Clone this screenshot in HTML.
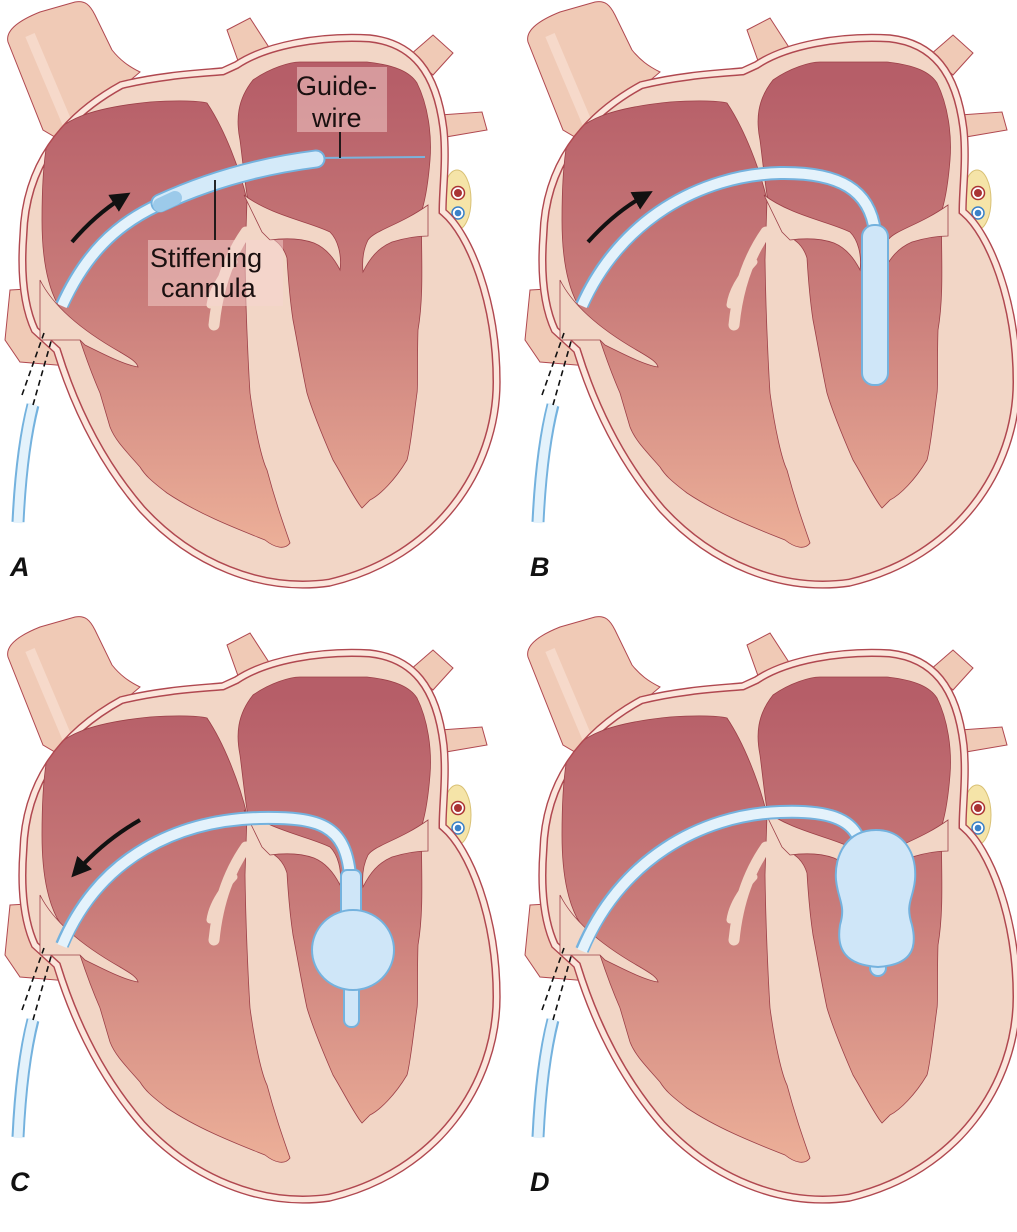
<!DOCTYPE html>
<html><head><meta charset="utf-8"><style>
html,body{margin:0;padding:0;background:#fff}
svg{display:block}
.lbl{font-family:"Liberation Sans",sans-serif;font-weight:bold;font-style:italic;font-size:27px;fill:#111}
.t{font-family:"Liberation Sans",sans-serif;font-size:27px;fill:#1a1010}
</style></head><body>
<svg width="1017" height="1232" viewBox="0 0 1017 1232" xmlns="http://www.w3.org/2000/svg">
<defs>
<linearGradient id="ch" gradientUnits="userSpaceOnUse" x1="0" y1="80" x2="0" y2="560">
<stop offset="0" stop-color="#b65e68"/><stop offset="0.45" stop-color="#c97c7a"/><stop offset="1" stop-color="#eeb29a"/>
</linearGradient>
<clipPath id="hc"><path id="hp" d="M20,235 C22,165 60,115 120,82 C160,72 200,70 222,68 L235,62 C265,42 320,32 370,35 C415,40 440,70 447,130 C450,160 446,190 446,210 C472,232 500,300 500,382 C500,470 440,560 330,586 C260,596 190,566 140,512 C100,466 72,410 54,352 L32,332 C18,302 18,262 20,235 Z"/></clipPath>
<marker id="ah" markerWidth="5" markerHeight="5" refX="2.5" refY="2.5" orient="auto"><path d="M0,0 L5,2.5 L0,5 Z" fill="#111"/></marker>
<g id="heart">
 <path d="M8,42 C5,30 20,20 40,12 L75,2 C85,0 90,5 95,15 L112,50 C120,60 128,66 140,72 L60,140 L43,130 Z" fill="#f0cab6" stroke="#b04850" stroke-width="1"/>
 <path d="M30,35 L68,125" stroke="#fbe3d8" stroke-width="10" opacity="0.6"/>
 <path d="M227,30 L250,18 L272,52 L242,72 Z" fill="#f0cab6" stroke="#b04850" stroke-width="1"/>
 <path d="M410,55 L433,35 L453,53 L433,75 Z" fill="#f0cab6" stroke="#b04850" stroke-width="1"/>
 <path d="M440,115 L482,112 L487,130 L440,138 Z" fill="#f0cab6" stroke="#b04850" stroke-width="1"/>
 <path d="M10,290 L45,288 L60,340 L68,366 L20,362 L5,340 Z" fill="#f0cab6" stroke="#b04850" stroke-width="1"/>
 <ellipse cx="457" cy="200" rx="14" ry="30" fill="#f5e4a8" stroke="#d8c074" stroke-width="1"/>
 <circle cx="458" cy="193" r="6.5" fill="#fff" stroke="#a33" stroke-width="1.5"/><circle cx="458" cy="193" r="4" fill="#a33"/>
 <circle cx="458" cy="213" r="6" fill="#fff" stroke="#3b82c8" stroke-width="1.5"/><circle cx="458" cy="213" r="3.3" fill="#3b82c8"/>
 <g clip-path="url(#hc)">
  <use href="#hp" fill="#f2d6c6" stroke="#b04850" stroke-width="15"/>
  <use href="#hp" fill="none" stroke="#fbe6dc" stroke-width="12"/>
  <path d="M47,143 C60,120 90,108 150,102 C180,100 200,101 207,103 C225,130 240,170 247,200 L245,260 C246,330 250,393 250,393 C255,430 262,460 267,470 C275,500 282,520 290,543 C285,550 275,548 265,540 C240,530 200,515 167,493 C150,480 145,475 140,467 C125,450 115,440 110,427 C105,410 102,400 100,393 C90,370 85,355 80,340 L57,303 C45,280 42,250 42,220 C42,190 43,165 47,143 Z" fill="url(#ch)" stroke="#9c4048" stroke-width="0.8"/>
  <path d="M240,140 C236,120 237,100 253,80 C270,68 290,62 300,62 L367,62 C395,65 410,72 417,83 C428,105 432,135 430,160 C428,185 425,200 422,210 C420,240 425,290 418,330 C417,360 418,390 417,393 C412,430 410,450 407,460 C395,480 380,495 370,500 C365,505 362,508 362,508 C355,500 345,480 333,460 C320,430 312,410 307,393 C302,370 297,340 293,320 C290,300 288,275 287,258 C283,245 275,240 270,237 L265,222 C255,210 248,200 247,195 C244,175 242,155 240,140 Z" fill="url(#ch)" stroke="#9c4048" stroke-width="0.8"/>
  <path d="M40,280 C55,310 90,335 120,352 C130,358 137,362 138,367 C125,365 105,355 85,345 L80,340 L40,340 Z" fill="#f2d6c6" stroke="#9c4048" stroke-width="0.8"/>
  <path d="M246,232 C230,255 218,285 214,325" fill="none" stroke="#f2d6c6" stroke-width="11" stroke-linecap="round"/>
  <path d="M234,262 C222,275 212,290 210,305" fill="none" stroke="#f2d6c6" stroke-width="7" stroke-linecap="round"/>
  <path d="M244,195 C270,215 310,222 330,232 C338,240 342,255 340,270 C334,258 326,248 314,243 C300,238 285,238 270,240 L262,232 Z" fill="#f2d6c6" stroke="#9c4048" stroke-width="0.8"/>
  <path d="M428,205 C400,225 375,230 368,240 C363,250 362,262 363,272 C370,258 378,248 392,242 C405,238 418,236 428,236 Z" fill="#f2d6c6" stroke="#9c4048" stroke-width="0.8"/>
 </g>
 <use href="#hp" fill="none" stroke="#b04850" stroke-width="1.4"/>
 <path d="M18,522 C20,480 24,440 33,405" fill="none" stroke="#74b2de" stroke-width="13"/>
 <path d="M18,523 C20,480 24,440 33,404" fill="none" stroke="#e4f2fb" stroke-width="9"/>
 <path d="M22,395 L44,333 M33,405 L52,338" stroke="#111" stroke-width="1.6" stroke-dasharray="6,4"/>
</g>
</defs>

<use href="#heart" x="0" y="0"/>
<use href="#heart" x="520" y="0"/>
<use href="#heart" x="0" y="615"/>
<use href="#heart" x="520" y="615"/>

<g>
 <path d="M62,305 C85,255 115,225 158,205" fill="none" stroke="#74b2de" stroke-width="14"/>
 <path d="M62,306 C85,255 115,225 158,205" fill="none" stroke="#e4f2fb" stroke-width="10"/>
 <path d="M318,158 L425,157" stroke="#7ab3dc" stroke-width="2"/>
 <path d="M160,203 C210,180 260,166 316,159" fill="none" stroke="#74b2de" stroke-width="19" stroke-linecap="round"/>
 <path d="M160,203 C210,180 260,166 316,159" fill="none" stroke="#d4eaf9" stroke-width="15" stroke-linecap="round"/>
 <path d="M160,205 L175,198" stroke="#9ccaea" stroke-width="14" stroke-linecap="round"/>
 <rect x="297" y="67" width="90" height="65" fill="#f6d4d0" opacity="0.5"/>
 <rect x="148" y="240" width="135" height="66" fill="#f6d4d0" opacity="0.5"/>
 <text class="t" x="296" y="95">Guide-</text>
 <text class="t" x="312" y="127">wire</text>
 <text class="t" x="150" y="267">Stiffening</text>
 <text class="t" x="161" y="297">cannula</text>
 <path d="M340,132 L340,158 M215,180 L215,240" stroke="#111" stroke-width="1.8"/>
 <path d="M72,242 Q95,215 122,198" fill="none" stroke="#111" stroke-width="4" marker-end="url(#ah)"/>
 <text class="lbl" x="10" y="576">A</text>
</g>

<g transform="translate(520,0)">
 <path d="M62,305 C100,220 180,175 260,173 C320,172 350,190 355,232" fill="none" stroke="#74b2de" stroke-width="14"/>
 <path d="M62,306 C100,220 180,175 260,173 C320,172 350,190 355,232" fill="none" stroke="#e4f2fb" stroke-width="10"/>
 <rect x="342" y="225" width="26" height="160" rx="12" fill="#cfe6f8" stroke="#74b2de" stroke-width="2"/>
 <path d="M68,242 Q95,212 124,196" fill="none" stroke="#111" stroke-width="4" marker-end="url(#ah)"/>
 <text class="lbl" x="10" y="576">B</text>
</g>

<g transform="translate(0,615)">
 <path d="M62,330 C100,240 180,205 260,203 C320,202 345,210 350,260" fill="none" stroke="#74b2de" stroke-width="14"/>
 <path d="M62,331 C100,240 180,205 260,203 C320,202 345,210 350,260" fill="none" stroke="#e4f2fb" stroke-width="10"/>
 <rect x="341" y="255" width="20" height="50" rx="6" fill="#cfe6f8" stroke="#74b2de" stroke-width="2"/>
 <rect x="344" y="350" width="15" height="62" rx="7" fill="#cfe6f8" stroke="#74b2de" stroke-width="2"/>
 <ellipse cx="353" cy="335" rx="41" ry="40" fill="#cfe6f8" stroke="#74b2de" stroke-width="2"/>
 <path d="M140,205 Q105,225 78,255" fill="none" stroke="#111" stroke-width="4" marker-end="url(#ah)"/>
 <text class="lbl" x="10" y="576">C</text>
</g>

<g transform="translate(520,615)">
 <path d="M62,335 C100,245 180,200 260,197 C310,195 330,205 338,222" fill="none" stroke="#74b2de" stroke-width="14"/>
 <path d="M62,336 C100,245 180,200 260,197 C310,195 330,205 338,222" fill="none" stroke="#e4f2fb" stroke-width="10"/>
 <circle cx="358" cy="353" r="8" fill="#cfe6f8" stroke="#74b2de" stroke-width="2"/>
 <path d="M356,215 C385,215 397,240 395,265 C393,285 385,288 392,310 C398,335 390,350 358,352 C326,350 316,335 320,310 C326,290 318,285 316,265 C314,240 327,215 356,215 Z" fill="#cfe6f8" stroke="#74b2de" stroke-width="2"/>
 <text class="lbl" x="10" y="576">D</text>
</g>
</svg>
</body></html>
